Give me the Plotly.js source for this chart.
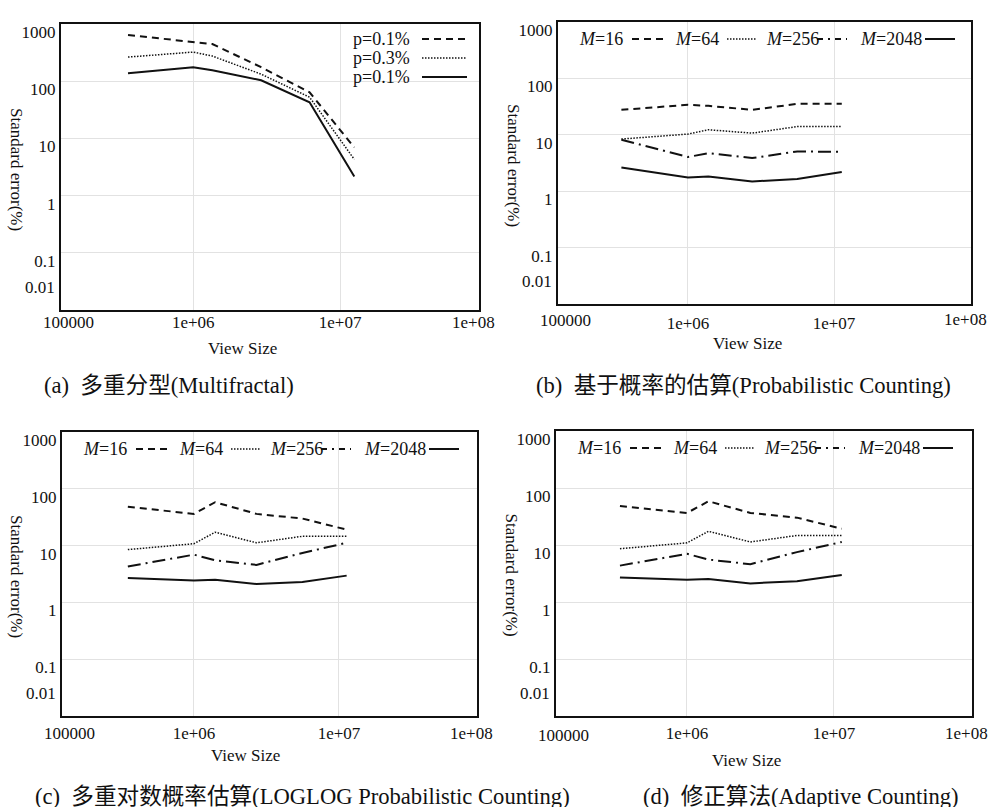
<!DOCTYPE html>
<html>
<head>
<meta charset="utf-8">
<script src="https://cdn.plot.ly/plotly-3.0.1.min.js"></script>
<style>html,body{margin:0;padding:0;background:#fff;}#chart{width:988px;height:807px;}</style>
</head>
<body>
<div id="chart"></div>
<script>
// ---------- data ----------
const xA = [3.6e5, 1e6, 1.35e6, 2.9e6, 6.2e6, 1.25e7];
const aP01Dash = [641, 483, 446, 176, 64, 6.95];
const aP03Dot = [264, 323, 275, 133, 52.5, 4.3];
const aP01Solid = [138, 176, 155, 104, 42.8, 2.15];

const xB = [3.5e5, 1e6, 1.38e6, 2.75e6, 5.6e6, 1.13e7];
const bM16 = [27.7, 34, 32.6, 27.7, 35.4, 35.4];
const bM64 = [8.4, 10.3, 12.3, 10.7, 14.0, 14.0];
const bM256 = [8.2, 4.03, 4.74, 3.87, 5.06, 5.0];
const bM2048 = [2.64, 1.75, 1.83, 1.49, 1.64, 2.19];

const xC = [3.5e5, 1e6, 1.4e6, 2.7e6, 5.6e6, 1.13e7];
const cM16 = [48.2, 36.2, 58, 36.2, 29.9, 19.1];
const cM64 = [8.5, 10.8, 17.2, 11.2, 14.6, 14.6];
const cM256 = [4.3, 6.93, 5.5, 4.57, 7.43, 11.2];
const cM2048 = [2.69, 2.44, 2.51, 2.11, 2.29, 2.96];

const xD = [3.5e5, 1e6, 1.4e6, 2.7e6, 5.6e6, 1.13e7];
const dM16 = [48.5, 36.5, 58.5, 36.5, 30.2, 19.3];
const dM64 = [8.6, 10.9, 17.4, 11.3, 14.7, 14.7];
const dM256 = [4.35, 7.0, 5.55, 4.6, 7.5, 11.3];
const dM2048 = [2.7, 2.46, 2.53, 2.12, 2.31, 2.98];

const yTickVals = [0.01, 0.1, 1, 10, 100, 1000];
const yTickText = ['', '0.1', '1', '10', '100', '1000'];
const yBottomLabel = '0.01';
const xTickVals = [1e6, 1e7];
const xTickText = ['1e+06', '1e+07'];
const edgeTickText = ['100000', '1e+08'];

const legendA = ['p=0.1%', 'p=0.3%', 'p=0.1%'];
const legendM = ['<i>M</i>=16', '<i>M</i>=64', '<i>M</i>=256', '<i>M</i>=2048'];
const captions = ['(a)  多重分型(Multifractal)', '(b)  基于概率的估算(Probabilistic Counting)',
                  '(c)  多重对数概率估算(LOGLOG Probabilistic Counting)', '(d)  修正算法(Adaptive Counting)'];
const xTitle = 'View Size';
const yTitle = 'Standard error(%)';

// ---------- styles ----------
const W = 988, H = 807;
const FONT = '"Liberation Serif", "Times New Roman", "Noto Sans CJK SC", serif';
const INK = '#111';
const f = s => ({family: FONT, size: s, color: INK});
const S_DASH = {color: INK, width: 2, dash: '7px,5px'};
const S_DOT = {color: INK, width: 1.5, dash: '1.5px,1.5px'};
const S_DASHDOT = {color: INK, width: 2, dash: '13px,5px,2px,5px'};
const S_SOLID = {color: INK, width: 2, dash: 'solid'};
const px = v => v / W;
const py = v => 1 - v / H;

// plot rectangles (pixels): left, right, top, bottom ; x log range ; label rows
const panels = [
  {l: 61, r: 479, t: 24, b: 310, xr: [5.1, 7.946], stand: -4, labY: [322, 322], titY: 348, titX: 242, ytX: 17},
  {l: 558, r: 971, t: 22, b: 304, xr: [5.11, 7.938], stand: 3, labY: [320, 319], titY: 343, titX: 747, ytX: 514},
  {l: 62, r: 477, t: 432, b: 716, xr: [5.09, 7.952], stand: 1, labY: [733, 733], titY: 755, titX: 245, ytX: 17},
  {l: 556, r: 972, t: 431, b: 716, xr: [5.109, 7.939], stand: 1, labY: [735, 733], titY: 760, titX: 746, ytX: 511}
];

const traces = [];
function addTrace(k, x, y, line, name) {
  const sfx = k === 0 ? '' : String(k + 1);
  traces.push({x: x, y: y, type: 'scatter', mode: 'lines', line: line, name: name,
               xaxis: 'x' + sfx, yaxis: 'y' + sfx, showlegend: false, hoverinfo: 'x+y'});
}
addTrace(0, xA, aP01Dash, S_DASH, legendA[0]);
addTrace(0, xA, aP03Dot, S_DOT, legendA[1]);
addTrace(0, xA, aP01Solid, S_SOLID, legendA[2]);
[[xB, bM16, bM64, bM256, bM2048], [xC, cM16, cM64, cM256, cM2048], [xD, dM16, dM64, dM256, dM2048]]
  .forEach((set, i) => {
    addTrace(i + 1, set[0], set[1], S_DASH, 'M=16');
    addTrace(i + 1, set[0], set[2], S_DOT, 'M=64');
    addTrace(i + 1, set[0], set[3], S_DASHDOT, 'M=256');
    addTrace(i + 1, set[0], set[4], S_SOLID, 'M=2048');
  });

const layout = {
  width: W, height: H, margin: {l: 0, r: 0, t: 0, b: 0},
  paper_bgcolor: '#fff', plot_bgcolor: '#fff',
  font: f(17),
  showlegend: false, annotations: [], shapes: []
};

function note(text, x, y, size, extra) {
  return Object.assign({text: text, xref: 'paper', yref: 'paper', x: px(x), y: py(y),
    xanchor: 'center', yanchor: 'middle', showarrow: false, font: f(size)}, extra || {});
}

panels.forEach((p, k) => {
  const sfx = k === 0 ? '' : String(k + 1);
  layout['xaxis' + sfx] = {
    type: 'log', range: p.xr, domain: [px(p.l), px(p.r)], anchor: 'y' + sfx,
    tickvals: xTickVals, ticktext: xTickText, ticks: '', ticklabelstandoff: p.stand,
    showgrid: true, gridcolor: '#e2e2e2', gridwidth: 1, zeroline: false,
    showline: true, mirror: true, linecolor: INK, linewidth: 2,
    tickfont: f(17)
  };
  layout['yaxis' + sfx] = {
    type: 'log', range: [-2, 3], domain: [py(p.b), py(p.t)], anchor: 'x' + sfx,
    tickvals: yTickVals, ticktext: yTickText, ticks: '', ticklabelshift: 8,
    showgrid: true, gridcolor: '#e2e2e2', gridwidth: 1, zeroline: false,
    showline: true, mirror: true, linecolor: INK, linewidth: 2,
    tickfont: f(17)
  };
  layout.annotations.push(
    note(edgeTickText[0], p.l + 7, p.labY[0], 17),
    note(edgeTickText[1], p.r - 6, p.labY[1], 17),
    note(yBottomLabel, p.l - 4, p.b - 23, 17, {xanchor: 'right'}),
    note(xTitle, p.titX, p.titY, 17),
    note(yTitle, p.ytX, (p.t + p.b) / 2 + 2, 17, {textangle: 90})
  );
});

// captions
const capPos = [[42, 385], [534, 385], [33, 796], [641, 796]];
captions.forEach((c, i) => layout.annotations.push(note(c, capPos[i][0], capPos[i][1], 22.6, {xanchor: 'left'})));

// legend of panel (a): text, then line sample on the right
layout.shapes.push({type: 'rect', xref: 'paper', yref: 'paper', x0: px(346), x1: px(476), y0: py(27), y1: py(87),
  fillcolor: '#fff', line: {width: 0}, layer: 'between'});
[S_DASH, S_DOT, S_SOLID].forEach((s, i) => {
  const yy = 39 + i * 19;
  layout.annotations.push(note(legendA[i], 351, yy, 18, {xanchor: 'left'}));
  layout.shapes.push({type: 'line', xref: 'paper', yref: 'paper', x0: px(422), x1: px(467), y0: py(yy), y1: py(yy),
    line: {color: INK, width: s.width, dash: s.dash}, layer: 'above'});
});

// legends of panels (b)-(d): one row, text then sample
const legText = [19, 115, 206, 300];
const legLine = [[74, 105], [169, 199], [259, 289], [367, 397]];
const legStyles = [S_DASH, S_DOT, {color: INK, width: 2, dash: '6px,5px,2px,5px'}, S_SOLID];
[1, 2, 3].forEach(k => {
  const p = panels[k];
  const yy = p.t + 17;
  legendM.forEach((t, i) => {
    layout.annotations.push(note(t, p.l + legText[i], yy, 18, {xanchor: 'left'}));
    const s = legStyles[i];
    layout.shapes.push({type: 'line', xref: 'paper', yref: 'paper', x0: px(p.l + legLine[i][0]), x1: px(p.l + legLine[i][1]),
      y0: py(yy), y1: py(yy), line: {color: INK, width: s.width, dash: s.dash}, layer: 'above'});
  });
});

Plotly.newPlot('chart', traces, layout, {displayModeBar: false, staticPlot: true});
</script>
</body>
</html>
